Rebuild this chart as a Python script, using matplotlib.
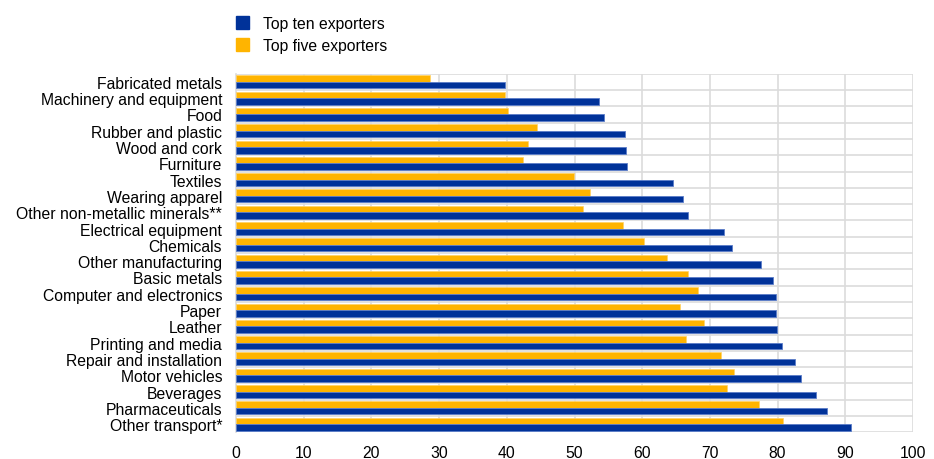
import matplotlib
matplotlib.use("Agg")
import matplotlib.pyplot as plt
from matplotlib.patches import Patch
from matplotlib.ticker import FixedLocator

plt.rcParams['font.family'] = ['Liberation Sans', 'DejaVu Sans']

categories = [
    "Fabricated metals", "Machinery and equipment", "Food", "Rubber and plastic",
    "Wood and cork", "Furniture", "Textiles", "Wearing apparel",
    "Other non-metallic minerals**", "Electrical equipment", "Chemicals",
    "Other manufacturing", "Basic metals", "Computer and electronics", "Paper",
    "Leather", "Printing and media", "Repair and installation", "Motor vehicles",
    "Beverages", "Pharmaceuticals", "Other transport*",
]
top_ten = [39.7, 53.6, 54.3, 57.5, 57.6, 57.7, 64.6, 66.1, 66.7, 72.1, 73.3,
           77.5, 79.3, 79.7, 79.7, 79.9, 80.6, 82.6, 83.4, 85.7, 87.3, 90.9]
top_five = [28.6, 39.7, 40.2, 44.4, 43.2, 42.4, 49.9, 52.3, 51.3, 57.1, 60.2,
            63.7, 66.8, 68.3, 65.6, 69.2, 66.5, 71.6, 73.5, 72.5, 77.2, 80.8]
series_labels = ["Top ten exporters", "Top five exporters"]
xticks = [0, 10, 20, 30, 40, 50, 60, 70, 80, 90, 100]

BLUE = "#003299"
YELLOW = "#FFB400"
GRID = "#dcdcdc"
FS = 11.3

fig = plt.figure(figsize=(9.34, 4.6), dpi=100)
ax = fig.add_axes([0.2527, 0.058, 0.7248, 0.7796])

n = len(categories)
pos = list(range(n))
h = 0.40
ax.barh([p - h / 2 for p in pos], top_five, height=h, color=YELLOW,
        edgecolor="#ffd266", linewidth=0.5, zorder=3)
ax.barh([p + h / 2 for p in pos], top_ten, height=h, color=BLUE,
        edgecolor="#5a7cc8", linewidth=0.6, zorder=3)

ax.set_xlim(0, 100)
ax.set_ylim(n - 0.5, -0.5)
ax.set_xticks(xticks)
ax.set_yticks(pos)
ax.set_yticklabels(categories, fontsize=FS)
ax.yaxis.set_minor_locator(FixedLocator([p - 0.5 for p in range(n + 1)]))
ax.tick_params(axis='y', which='both', length=0, pad=10)
ax.tick_params(axis='x', length=0, pad=9, labelsize=FS)
ax.grid(axis='x', which='major', color=GRID, linewidth=1.2, zorder=0)
ax.grid(axis='y', which='minor', color=GRID, linewidth=1.2, zorder=0)
for s in ax.spines.values():
    s.set_visible(False)
ax.spines['left'].set_visible(True)
ax.spines['left'].set_color(GRID)
ax.spines['left'].set_linewidth(1.2)

handles = [Patch(facecolor=BLUE, edgecolor=BLUE), Patch(facecolor=YELLOW, edgecolor=YELLOW)]
fig.legend(handles, series_labels, loc='upper left', bbox_to_anchor=(0.2527, 0.963),
           frameon=False, fontsize=FS, handlelength=0.85, handleheight=0.85,
           handletextpad=0.9, labelspacing=0.45, borderpad=0, borderaxespad=0)

fig.savefig("out.png", dpi=100)
